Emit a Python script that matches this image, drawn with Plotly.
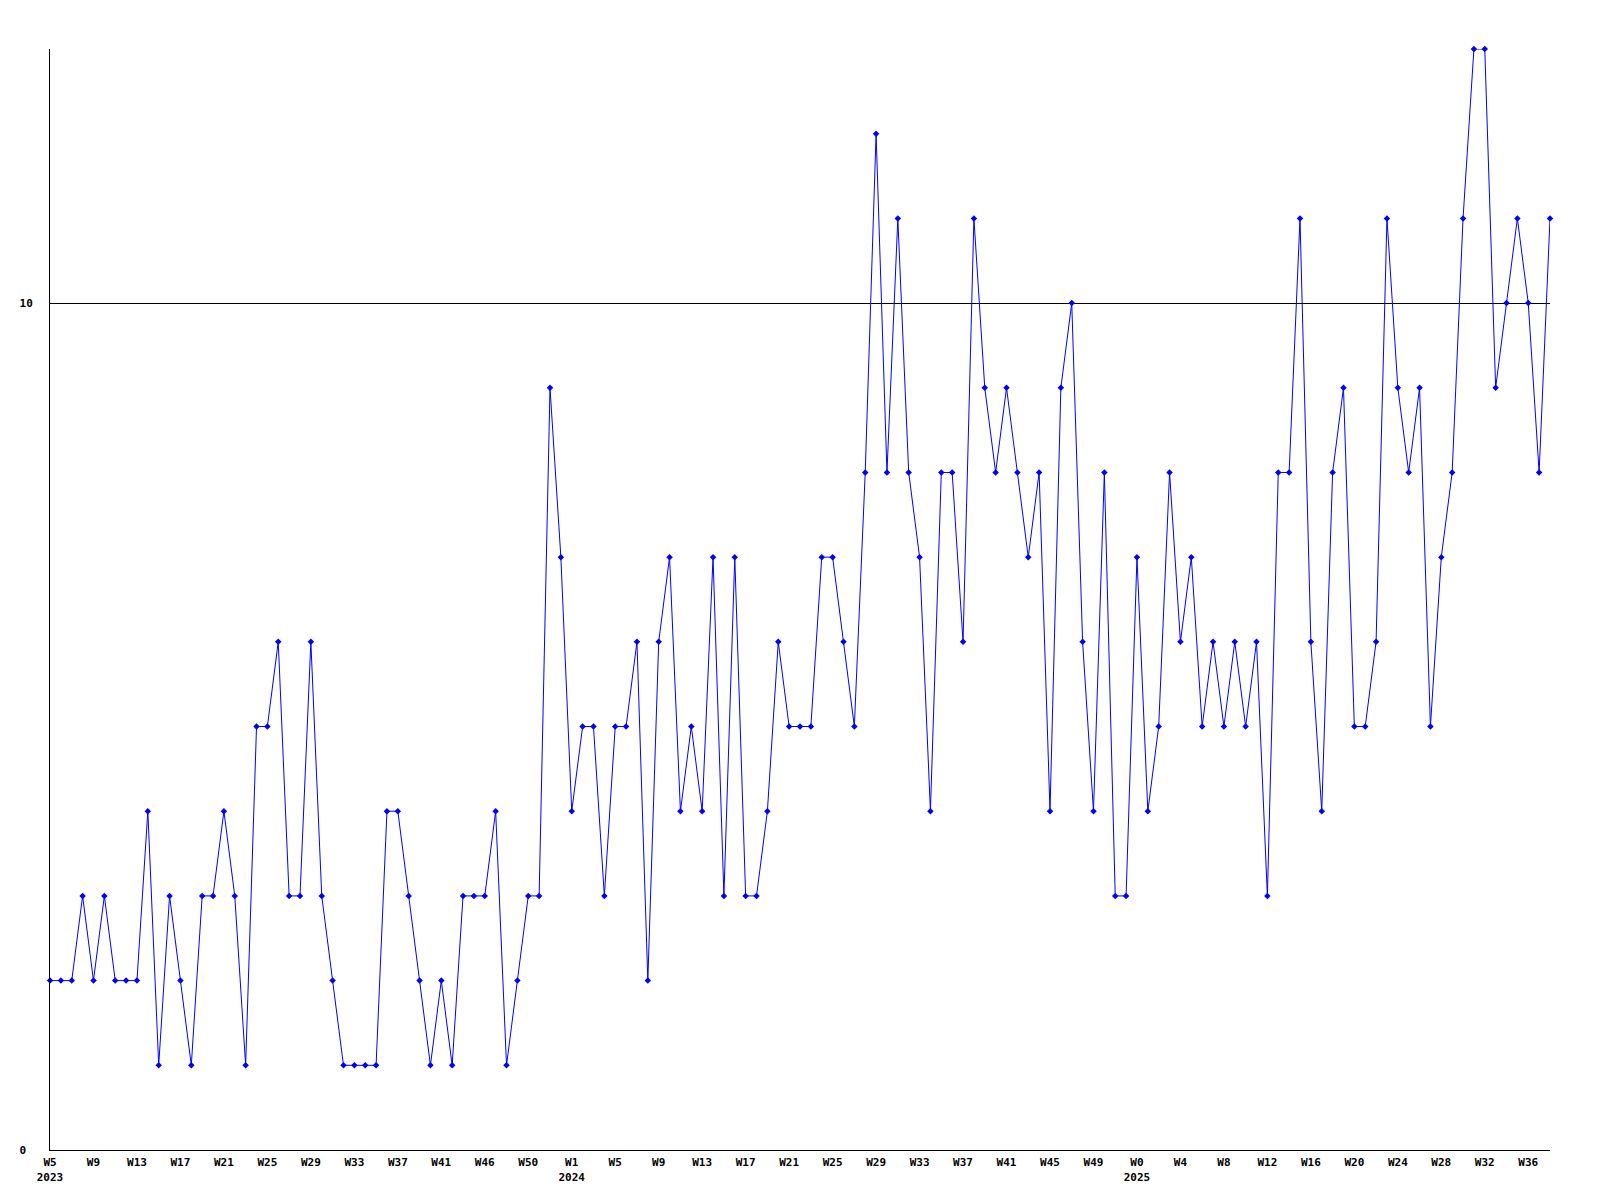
import plotly.graph_objects as go

# Weekly values, from week 5 of 2023 to week 37 of 2025
values = [
    2, 2, 2, 3, 2, 3, 2, 2, 2, 4,
    1, 3, 2, 1, 3, 3, 4, 3, 1, 5,
    5, 6, 3, 3, 6, 3, 2, 1, 1, 1,
    1, 4, 4, 3, 2, 1, 2, 1, 3, 3,
    3, 4, 1, 2, 3, 3, 9, 7, 4, 5,
    5, 3, 5, 5, 6, 2, 6, 7, 4, 5,
    4, 7, 3, 7, 3, 3, 4, 6, 5, 5,
    5, 7, 7, 6, 5, 8, 12, 8, 11, 8,
    7, 4, 8, 8, 6, 11, 9, 8, 9, 8,
    7, 8, 4, 9, 10, 6, 4, 8, 3, 3,
    7, 4, 5, 8, 6, 7, 5, 6, 5, 6,
    5, 6, 3, 8, 8, 11, 6, 4, 8, 9,
    5, 5, 6, 11, 9, 8, 9, 5, 7, 8,
    11, 13, 13, 9, 10, 11, 10, 8, 11,
]

# x-axis labels (one every 4 points)
tick_labels = [
    "W5<br>2023", "W9", "W13", "W17", "W21", "W25", "W29", "W33", "W37", "W41", "W46", "W50",
    "W1<br>2024", "W5", "W9", "W13", "W17", "W21", "W25", "W29", "W33", "W37", "W41", "W45", "W49",
    "W0<br>2025", "W4", "W8", "W12", "W16", "W20", "W24", "W28", "W32", "W36",
]
tick_step = 4

y_ticks = [0, 10]
y_tick_labels = ["0\u00a0", "10"]

x = list(range(len(values)))
tick_positions = list(range(0, tick_step * len(tick_labels), tick_step))

font_family = "DejaVu Sans Mono"

fig = go.Figure()
fig.add_trace(go.Scatter(
    x=x,
    y=values,
    mode="lines+markers",
    line=dict(color="#0000ff", width=1),
    marker=dict(symbol="diamond", size=5, color="#0000ff"),
    cliponaxis=False,
    showlegend=False,
    hoverinfo="skip",
))

fig.update_layout(
    width=1600,
    height=1200,
    margin=dict(l=42, r=58, t=41, b=58, pad=0),
    paper_bgcolor="white",
    plot_bgcolor="white",
    font=dict(family=font_family, size=11, color="black", weight="bold"),
    xaxis=dict(
        range=[0, len(values) - 1],
        tickmode="array",
        tickvals=tick_positions,
        ticktext=tick_labels,
        showgrid=False,
        zeroline=False,
        showline=True,
        linecolor="black",
        linewidth=1,
        ticks="",
        tickangle=0,
        ticklabelstandoff=2,
        tickfont=dict(family=font_family, size=11, color="black", weight="bold"),
    ),
    yaxis=dict(
        range=[0, 13],
        tickmode="array",
        tickvals=y_ticks,
        ticktext=y_tick_labels,
        showgrid=True,
        gridcolor="black",
        gridwidth=1,
        zeroline=False,
        showline=True,
        linecolor="black",
        linewidth=1,
        ticks="",
        ticklabelstandoff=14,
        tickfont=dict(family=font_family, size=11, color="black", weight="bold"),
    ),
)

fig.write_html("out.html")
